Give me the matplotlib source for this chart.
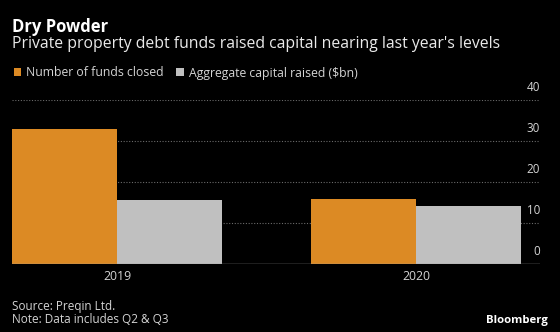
import matplotlib
matplotlib.use("Agg")
import matplotlib.pyplot as plt
import numpy as np

# Data
years = ["2019", "2020"]
funds_closed = [33, 16]
capital_raised = [15.7, 14.2]
series_names = ["Number of funds closed", "Aggregate capital raised ($bn)"]
y_ticks = [0, 10, 20, 30, 40]

ORANGE = "#DC8A24"
GREY = "#C0C0C0"
BG = "#000000"
TEXT = "#D4D4D4"

plt.rcParams["font.family"] = ["Open Sans", "DejaVu Sans"]

fig = plt.figure(figsize=(5.6, 3.32), dpi=100, facecolor=BG)
ax = fig.add_axes([0.0223, 0.2039, 0.9420, 0.4949], facecolor=BG)

x = np.arange(len(years))
w = 0.35
b1 = ax.bar(x - w / 2, funds_closed, width=w, color=ORANGE, zorder=2,
            label=series_names[0], linewidth=0)
b2 = ax.bar(x + w / 2, capital_raised, width=w, color=GREY, zorder=2,
            label=series_names[1], linewidth=0)

ax.set_xlim(-0.35, 1.415)
ax.set_ylim(0, 40)
for s in ax.spines.values():
    s.set_visible(False)

# dotted gridlines with value labels sitting above them at the right edge
for v in y_ticks:
    if v == 0:
        ax.axhline(0, color="#9A9A9A", lw=1.0, zorder=3)
    else:
        ax.axhline(v, color="#6A6A6A", lw=0.8, ls=(0, (1, 1.5)), zorder=1)
    ax.annotate(str(v), xy=(1, v), xycoords=("axes fraction", "data"),
                xytext=(0, 6.5), textcoords="offset points",
                ha="right", va="baseline", color=TEXT, fontsize=8.4)

ax.set_yticks([])
ax.set_xticks(x)
ax.set_xticklabels(years)
ax.tick_params(axis="x", length=0, pad=4, colors=TEXT, labelsize=8.8)

# Titles
fig.text(12.5 / 560, 1 - 31.7 / 332, "Dry Powder", color="white",
         fontsize=12.0, fontweight="bold", ha="left", va="baseline")
fig.text(12.5 / 560, 1 - 48.3 / 332,
         "Private property debt funds raised capital nearing last year's levels",
         color="#EAEAEA", fontsize=11.3, ha="left", va="baseline")

# Legend
fig.legend(handles=[b1, b2], loc="center left",
           bbox_to_anchor=(13.5 / 560, 1 - 73 / 332), ncol=2, frameon=False,
           fontsize=8.8, handlelength=0.64, handleheight=0.64,
           handletextpad=0.42, columnspacing=1.0, borderpad=0,
           borderaxespad=0, labelcolor=TEXT)

# Footer
fig.text(12.5 / 560, 1 - 306.4 / 332, "Source: Preqin Ltd.", color=TEXT,
         fontsize=8.5, ha="left", va="center")
fig.text(12.5 / 560, 1 - 319.6 / 332, "Note: Data includes Q2 & Q3", color=TEXT,
         fontsize=8.5, ha="left", va="center")
fig.text(548 / 560, 1 - 321 / 332, "Bloomberg", color="white",
         fontsize=8.2, fontweight="bold", ha="right", va="center")

fig.savefig("out.png", dpi=100, facecolor=BG)
